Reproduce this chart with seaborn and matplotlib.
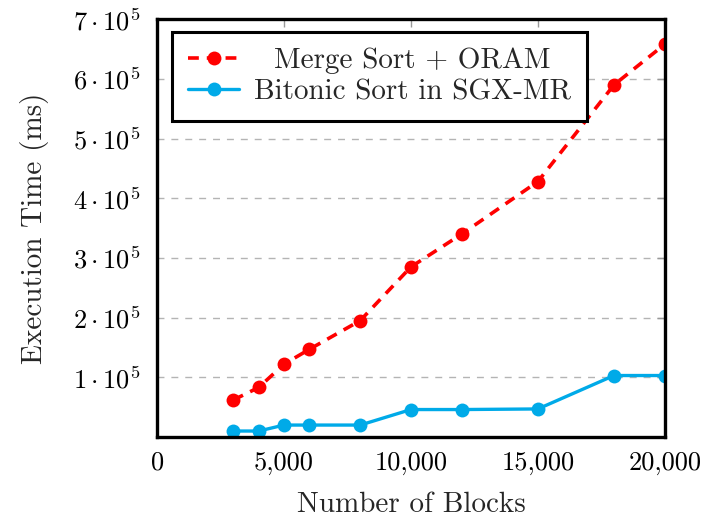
import matplotlib
matplotlib.use("Agg")
import matplotlib.pyplot as plt
import seaborn as sns
import pandas as pd
from matplotlib.ticker import FuncFormatter, FixedLocator

blocks = [3000, 4000, 5000, 6000, 8000, 10000, 12000, 15000, 18000, 20000]
merge_oram = [62000, 83000, 122000, 147000, 195000, 285000, 340000, 428000, 590000, 658000]
bitonic_sgx = [10000, 10000, 20000, 20000, 20000, 46000, 46000, 47000, 103000, 103000]
series_names = ["Merge Sort + ORAM", "Bitonic Sort in SGX-MR"]
x_ticks = [0, 5000, 10000, 15000, 20000]
y_ticks = [100000, 200000, 300000, 400000, 500000, 600000, 700000]

sns.set_theme(style="white")
plt.rcParams["font.family"] = ["cmr10", "DejaVu Serif"]
plt.rcParams["mathtext.fontset"] = "cm"
plt.rcParams["axes.unicode_minus"] = False

df = pd.concat([
    pd.DataFrame({"Blocks": blocks, "Time": merge_oram, "Series": series_names[0]}),
    pd.DataFrame({"Blocks": blocks, "Time": bitonic_sgx, "Series": series_names[1]}),
])

fig = plt.figure(figsize=(7.11, 5.19), dpi=100)
ax = fig.add_axes([0.221, 0.158, 0.714, 0.805])

red = "#FF0000"
cyan = "#00AAE8"
sns.lineplot(data=df[df.Series == series_names[0]], x="Blocks", y="Time", ax=ax,
             color=red, linestyle=(0, (3, 2.2)), linewidth=2.6, marker="o",
             markersize=10, markeredgewidth=0, label=series_names[0])
sns.lineplot(data=df[df.Series == series_names[1]], x="Blocks", y="Time", ax=ax,
             color=cyan, linestyle="-", linewidth=2.4, marker="o",
             markersize=10, markeredgewidth=0, label=series_names[1])

ax.set_xlim(0, 20000)
ax.set_ylim(0, 700000)
ax.xaxis.set_major_locator(FixedLocator(x_ticks))
ax.yaxis.set_major_locator(FixedLocator(y_ticks))
ax.xaxis.set_major_formatter(FuncFormatter(lambda v, p: f"{int(v):,}"))
ax.yaxis.set_major_formatter(FuncFormatter(lambda v, p: rf"${int(round(v/1e5))}\cdot 10^{{5}}$"))

ax.yaxis.grid(True, linestyle=(0, (5, 5)), color="#B4B4B4", linewidth=1.0)
ax.xaxis.grid(False)
ax.tick_params(axis="both", direction="in", length=6, width=1.0, color="#999999",
               labelsize=19, top=True, right=True, labelcolor="black")
ax.tick_params(axis="y", pad=12)
ax.tick_params(axis="x", pad=10)
for s in ax.spines.values():
    s.set_color("black")
    s.set_linewidth(2.4)

ax.set_xlabel("Number of Blocks", fontsize=21, labelpad=12)
ax.set_ylabel("Execution Time (ms)", fontsize=21, labelpad=17)

leg = ax.legend(loc="upper left", bbox_to_anchor=(0.03, 0.97), fontsize=21,
                frameon=True, fancybox=False, edgecolor="black", framealpha=1,
                handlelength=1.75, borderpad=0.55, labelspacing=0.15,
                handletextpad=0.5, borderaxespad=0)
leg.get_frame().set_linewidth(2.2)

# centre legend labels like the reference
fig.canvas.draw()
renderer = fig.canvas.get_renderer()
texts = leg.get_texts()
widths = [t.get_window_extent(renderer).width for t in texts]
maxw = max(widths)
for t, w in zip(texts, widths):
    t.set_x((maxw - w) / 2)

fig.savefig("out.png", dpi=100)
